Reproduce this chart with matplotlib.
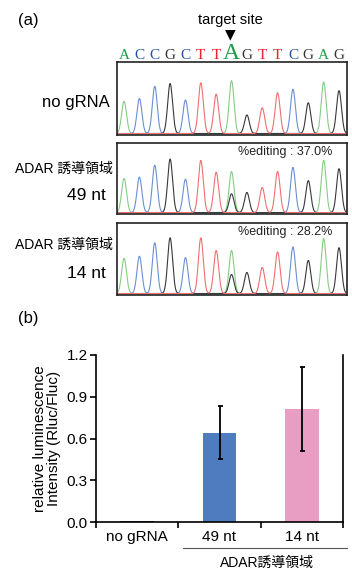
import numpy as np
import matplotlib
matplotlib.use("Agg")
import matplotlib.pyplot as plt

# Secuencia y alturas de picos (cromatogramas)
bases = list("ACCGCTTAGTTCGAG")
target_index = 7
trace_labels = ["no gRNA", "49 nt", "14 nt"]
peaks_no_grna = [0.45, 0.49, 0.66, 0.70, 0.47, 0.71, 0.55, 0.74, 0.26, 0.36, 0.57, 0.62, 0.43, 0.72, 0.60]
peaks_49nt = [0.49, 0.51, 0.68, 0.77, 0.48, 0.75, 0.58, 0.59, 0.29, 0.36, 0.59, 0.65, 0.46, 0.75, 0.63]
peaks_14nt = [0.50, 0.53, 0.72, 0.79, 0.51, 0.79, 0.61, 0.61, 0.30, 0.37, 0.59, 0.66, 0.47, 0.78, 0.65]
edited_g_peak = [0.0, 0.27, 0.27]
editing_text = [None, "%editing : 37.0%", "%editing : 28.2%"]

# Datos de luminiscencia
groups = ["no gRNA", "49 nt", "14 nt"]
luminescence = [0.005, 0.642, 0.812]
luminescence_err = [0.0, 0.192, 0.300]
y_ticks = [0.0, 0.3, 0.6, 0.9, 1.2]

W, H = 352, 570
base_colors = {"A": "#1a9e48", "C": "#2250a8", "G": "#333333", "T": "#e8202a"}
trace_colors = {"A": "#86cc86", "C": "#6b8fd4", "G": "#383838", "T": "#ee7070"}
bar_colors = ["#22386a", "#4f7cbe", "#e89ec3"]


def px_box(x0, y0, x1, y1):
    return [x0 / W, 1 - y1 / H, (x1 - x0) / W, (y1 - y0) / H]


def fx(x):
    return x / W


def fy(y):
    return 1 - y / H


def draw_trace(ax, heights, extra_g):
    x = np.linspace(-0.6, 14.6, 2000)
    sigma = 0.16
    for base in "ACGT":
        y = np.zeros_like(x)
        for i, (b, h) in enumerate(zip(bases, heights)):
            if b == base:
                y += h * np.exp(-(x - i) ** 2 / (2 * sigma ** 2))
        if base == "G" and extra_g > 0:
            y += extra_g * np.exp(-(x - target_index) ** 2 / (2 * sigma ** 2))
        ax.plot(x, y, color=trace_colors[base], lw=0.8)
    ax.set_xlim(-0.46, 14.52)
    ax.set_ylim(-0.02, 1.0)
    ax.set_xticks([])
    ax.set_yticks([])
    for s in ax.spines.values():
        s.set_linewidth(1.2)
        s.set_color("#222222")


def main():
    plt.rcParams['font.family'] = ['Liberation Sans', 'Noto Sans CJK JP']
    fig = plt.figure(figsize=(W / 100, H / 100), dpi=100)

    # Panel (a): cromatogramas
    fig.text(fx(28), fy(20), "(a)", fontsize=12, ha="center", va="center")
    fig.text(fx(230), fy(20), "target site", fontsize=10.5, ha="center", va="center")
    fig.text(fx(230), fy(34), "▼", fontsize=10, ha="center", va="center",
             family=["DejaVu Sans"])

    boxes = [(117, 62, 347, 135), (117, 143, 347, 214), (117, 223, 347, 295)]
    all_peaks = [peaks_no_grna, peaks_49nt, peaks_14nt]
    trace_axes = []
    for k, (box, heights) in enumerate(zip(boxes, all_peaks)):
        ax = fig.add_axes(px_box(*box))
        draw_trace(ax, heights, edited_g_peak[k])
        if editing_text[k]:
            ax.text(0.935, 0.88, editing_text[k], transform=ax.transAxes,
                    fontsize=9, ha="right", va="center", color="#222222")
        trace_axes.append(ax)

    # Letras de la secuencia
    ax0 = trace_axes[0]
    for i, b in enumerate(bases):
        big = i == target_index
        ax0.text(i, 1.035, b, transform=ax0.get_xaxis_transform(),
                 ha="center", va="baseline", color=base_colors[b],
                 fontsize=17 if big else 11, family="Liberation Serif",
                 clip_on=False)

    # Etiquetas de la izquierda
    fig.text(fx(76), fy(103), "no gRNA", fontsize=12, ha="center", va="center")
    fig.text(fx(64), fy(169), "ADAR 誘導領域", fontsize=10, ha="center", va="center")
    fig.text(fx(86), fy(196), "49 nt", fontsize=12.5, ha="center", va="center")
    fig.text(fx(64), fy(245), "ADAR 誘導領域", fontsize=10, ha="center", va="center")
    fig.text(fx(86), fy(274), "14 nt", fontsize=12.5, ha="center", va="center")

    # Panel (b): gráfico de barras
    fig.text(fx(28), fy(319), "(b)", fontsize=12, ha="center", va="center")
    axb = fig.add_axes(px_box(96, 355, 343, 522))
    pos = np.arange(len(groups))
    axb.bar(pos, luminescence, width=0.41, color=bar_colors, zorder=2)
    axb.errorbar(pos[1:], luminescence[1:], yerr=luminescence_err[1:], fmt="none",
                 ecolor="black", elinewidth=1.3, capsize=1.8, capthick=1.3, zorder=3)
    axb.set_xlim(-0.5, 2.5)
    axb.set_ylim(0, 1.2)
    axb.set_yticks(y_ticks)
    axb.set_yticklabels([f"{v:.1f}" for v in y_ticks], fontsize=11)
    axb.set_xticks(np.arange(len(groups) + 1) - 0.5)
    axb.set_xticklabels([])
    axb.set_xticks(pos, minor=True)
    axb.set_xticklabels(groups, minor=True, fontsize=11)
    axb.tick_params(axis="x", which="major", direction="out", length=4, width=1.2)
    axb.tick_params(axis="x", which="minor", length=0, pad=6)
    axb.tick_params(axis="y", direction="out", length=4, width=1.2, pad=2)
    axb.spines["top"].set_visible(False)
    for s in ["left", "right", "bottom"]:
        axb.spines[s].set_linewidth(1.2)
    axb.set_ylabel("relative luminescence\nIntensity (Rluc/Fluc)", fontsize=11,
                   linespacing=1.0, labelpad=4)

    # Línea y etiqueta del grupo ADAR
    fig.add_artist(plt.Line2D([fx(183), fx(347)], [fy(548), fy(548)],
                              color="#555555", lw=0.8))
    fig.text(fx(267), fy(563), "ADAR誘導領域", fontsize=10, ha="center", va="center")

    fig.savefig("out.png", dpi=100)


if __name__ == "__main__":
    main()
